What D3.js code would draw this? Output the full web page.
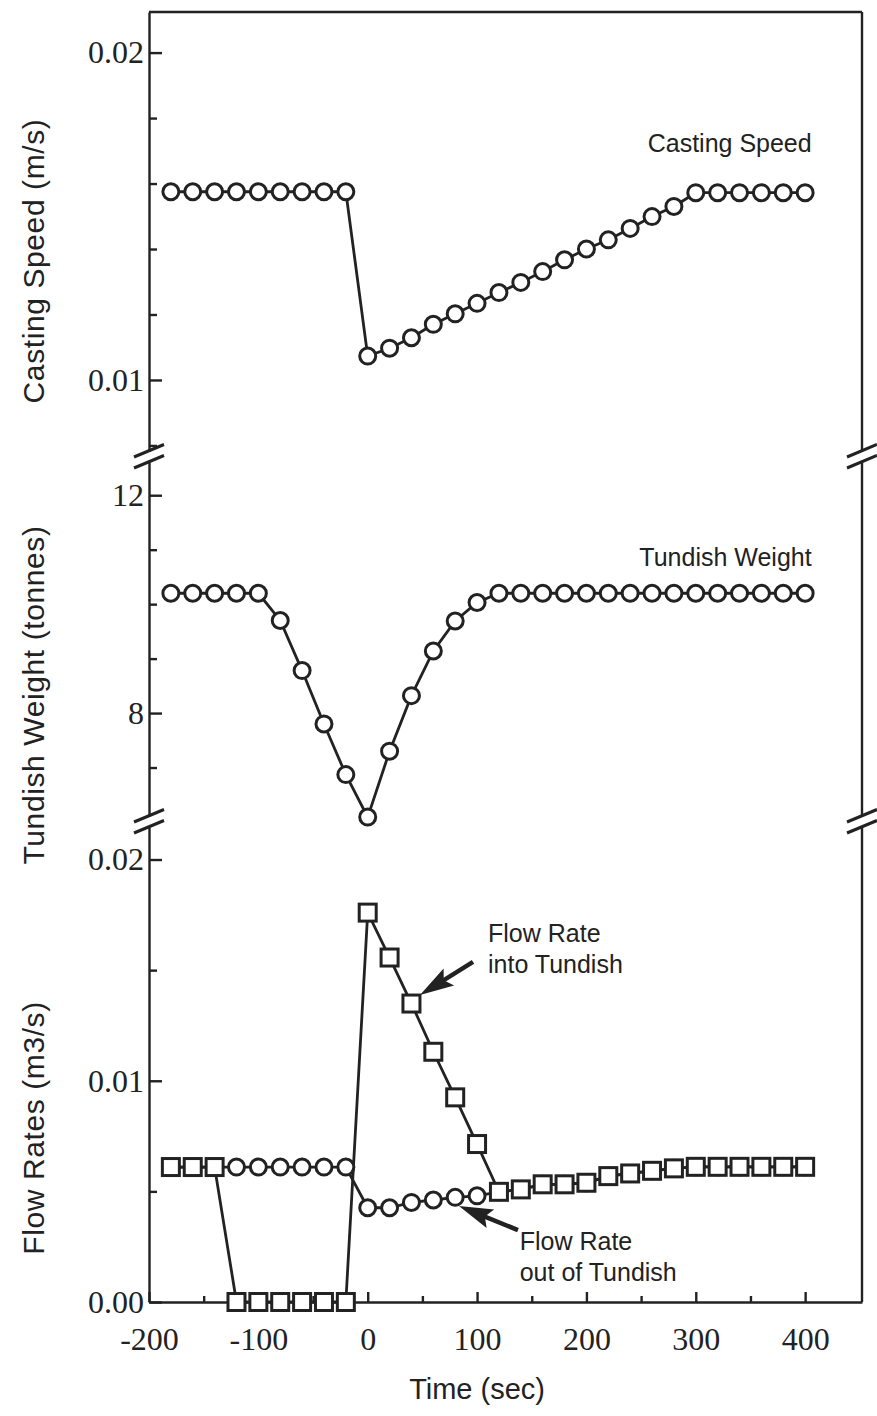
<!DOCTYPE html>
<html>
<head>
<meta charset="utf-8">
<script src="https://cdnjs.cloudflare.com/ajax/libs/d3/7.8.5/d3.min.js"></script>
<style>
  body { margin: 0; background: #fff; }
  .tick text { font-family: "Liberation Serif", "Times New Roman", serif; font-size: 32px; fill: #222; }
</style>
</head>
<body>
<div class="chart"></div>
<script>
// time steps (sec)
const time = [-180, -160, -140, -120, -100, -80, -60, -40, -20, 0, 20, 40, 60, 80, 100,
              120, 140, 160, 180, 200, 220, 240, 260, 280, 300, 320, 340, 360, 380, 400]

// casting speed (m/s)
const castingSpeed = [0.01575, 0.01575, 0.01575, 0.01575, 0.01575, 0.01575, 0.01575, 0.01575, 0.01575,
                      0.01073, 0.01097, 0.01129, 0.01170, 0.01202, 0.01234, 0.01267, 0.01298, 0.01331,
                      0.01367, 0.01400, 0.01428, 0.01463, 0.01499, 0.01530,
                      0.01572, 0.01572, 0.01572, 0.01572, 0.01572, 0.01572]

// tundish weight (tonnes)
const tundishWeight = [10.20, 10.20, 10.20, 10.20, 10.20, 9.70, 8.78, 7.80, 6.87, 6.09,
                       7.30, 8.32, 9.14, 9.69, 10.03, 10.20, 10.20, 10.20, 10.20, 10.20,
                       10.20, 10.20, 10.20, 10.20, 10.20, 10.20, 10.20, 10.20, 10.20, 10.20]

// flow rate into tundish (m3/s) - squares
const flowIn = [0.0061, 0.0061, 0.0061, 0, 0, 0, 0, 0, 0,
                0.0176, 0.01557, 0.01349, 0.01131, 0.00925, 0.00714, 0.00498, 0.00509, 0.00532,
                0.00532, 0.00539, 0.00569, 0.00581, 0.00593, 0.00604,
                0.00611, 0.00611, 0.00611, 0.00611, 0.00611, 0.00611]

// flow rate out of tundish (m3/s) - circles
const flowOut = [0.0061, 0.0061, 0.0061, 0.0061, 0.0061, 0.0061, 0.0061, 0.0061, 0.0061,
                 0.00426, 0.00426, 0.00450, 0.00461, 0.00473, 0.00480, 0.00498, 0.00509, 0.00532,
                 0.00532, 0.00539, 0.00569, 0.00581, 0.00593, 0.00604,
                 0.00611, 0.00611, 0.00611, 0.00611, 0.00611, 0.00611]

const xTicks = [-200, -100, 0, 100, 200, 300, 400]
const xMinor = [-150, -50, 50, 150, 250, 350]

const width = 877
const height = 1416
const ink = '#222'
const left = 149, right = 862

const svg = d3.select('.chart').append('svg')
    .attr('width', width)
    .attr('height', height)

const x = d3.scaleLinear().domain([-200, 452]).range([left, right])

// three stacked panels with broken axes between them
const panels = [
  {title: 'Casting Speed (m/s)', top: 12, bottom: 451, domain: [0.00783, 0.02124],
   major: [0.01, 0.02], minor: [0.008, 0.012, 0.014, 0.016, 0.018], fmt: d3.format('.2f'), titleY: 261},
  {title: 'Tundish Weight (tonnes)', top: 462, bottom: 816, domain: [6.11, 12.61],
   major: [8, 12], minor: [7, 9, 10, 11], fmt: d3.format('d'), titleY: 695},
  {title: 'Flow Rates (m3/s)', top: 827, bottom: 1302, domain: [0, 0.02147],
   major: [0, 0.01, 0.02], minor: [0.005, 0.015], fmt: d3.format('.2f'), titleY: 1128}
]
panels.forEach(p => { p.y = d3.scaleLinear().domain(p.domain).range([p.bottom, p.top]) })

panels.forEach(p => {
  const g = svg.append('g').attr('transform', 'translate(' + left + ',0)')
  g.call(d3.axisLeft(p.y).tickValues(p.major).tickFormat(p.fmt)
        .tickSize(-13).tickSizeOuter(0).tickPadding(5))
  g.append('g').call(d3.axisLeft(p.y).tickValues(p.minor).tickFormat('')
        .tickSize(-8).tickSizeOuter(0))
     .call(a => a.select('.domain').remove())
  g.selectAll('line, path').attr('stroke', ink).attr('stroke-width', 2.4)

  // right frame segment
  svg.append('line')
     .attr('x1', right).attr('x2', right)
     .attr('y1', p.top).attr('y2', p.bottom)
     .attr('stroke', ink).attr('stroke-width', 2.4)

  svg.append('text')
     .attr('transform', 'translate(44,' + p.titleY + ') rotate(-90)')
     .attr('text-anchor', 'middle')
     .style('font-family', '"Liberation Sans", Arial, sans-serif')
     .style('font-size', '30px')
     .style('letter-spacing', '0.6px')
     .attr('fill', ink)
     .text(p.title)
})

// top frame line
svg.append('line')
   .attr('x1', left).attr('x2', right).attr('y1', 12).attr('y2', 12)
   .attr('stroke', ink).attr('stroke-width', 2.4)

// break marks
;[[panels[0], panels[1]], [panels[1], panels[2]]].forEach(([a, b]) => {
  [left, right].forEach(xx => {
    [a.bottom, b.top].forEach(yy => {
      svg.append('line')
         .attr('x1', xx - 15).attr('y1', yy + 6)
         .attr('x2', xx + 15).attr('y2', yy - 6.5)
         .attr('stroke', ink).attr('stroke-width', 3)
    })
  })
})

// x axis
const xg = svg.append('g').attr('transform', 'translate(0,' + panels[2].bottom + ')')
xg.call(d3.axisBottom(x).tickValues(xTicks).tickFormat(d => String(d))
          .tickSize(-10).tickSizeOuter(0).tickPadding(25))
xg.append('g').call(d3.axisBottom(x).tickValues(xMinor).tickFormat('').tickSize(-6).tickSizeOuter(0))
  .call(a => a.select('.domain').remove())
xg.selectAll('line, path').attr('stroke', ink).attr('stroke-width', 2.4)

svg.append('text')
   .attr('x', x(100)).attr('y', 1399)
   .attr('text-anchor', 'middle')
   .style('font-family', '"Liberation Sans", Arial, sans-serif')
   .style('font-size', '29px')
   .attr('fill', ink)
   .text('Time (sec)')

// series
const toPts = vals => time.map((t, i) => ({t: t, v: vals[i]}))

function drawLine(pts, y) {
  svg.append('path')
     .datum(pts)
     .attr('fill', 'none')
     .attr('stroke', ink)
     .attr('stroke-width', 2.8)
     .attr('d', d3.line().x(d => x(d.t)).y(d => y(d.v)))
}
function drawCircles(pts, y) {
  svg.append('g').selectAll('circle')
     .data(pts).enter().append('circle')
     .attr('cx', d => x(d.t)).attr('cy', d => y(d.v)).attr('r', 8)
     .attr('fill', '#fff').attr('stroke', ink).attr('stroke-width', 3)
}
function drawSquares(pts, y) {
  const s = 17
  svg.append('g').selectAll('rect')
     .data(pts).enter().append('rect')
     .attr('x', d => x(d.t) - s / 2).attr('y', d => y(d.v) - s / 2)
     .attr('width', s).attr('height', s)
     .attr('fill', '#fff').attr('stroke', ink).attr('stroke-width', 3)
}

const speedPts = toPts(castingSpeed)
drawLine(speedPts, panels[0].y)
drawCircles(speedPts, panels[0].y)

const weightPts = toPts(tundishWeight)
drawLine(weightPts, panels[1].y)
drawCircles(weightPts, panels[1].y)

const inPts = toPts(flowIn)
const outPts = toPts(flowOut)
drawLine(outPts, panels[2].y)
drawLine(inPts, panels[2].y)
drawCircles(outPts, panels[2].y)
drawSquares(inPts, panels[2].y)

// labels
function label(lines, t, v, y, anchor) {
  const txt = svg.append('text')
     .attr('x', x(t)).attr('y', y(v))
     .attr('text-anchor', anchor)
     .style('font-family', '"Liberation Sans", Arial, sans-serif')
     .style('font-size', '25px')
     .attr('fill', ink)
  lines.forEach((s, i) => {
    txt.append('tspan').attr('x', x(t)).attr('dy', i === 0 ? 0 : 31).text(s)
  })
}
label(['Casting Speed'], 406, 0.01697, panels[0].y, 'end')
label(['Tundish Weight'], 406, 10.70, panels[1].y, 'end')
label(['Flow Rate', 'into Tundish'], 110, 0.01627, panels[2].y, 'start')
label(['Flow Rate', 'out of Tundish'], 139, 0.00235, panels[2].y, 'start')

// arrows
function arrow(t0, v0, t1, v1, y) {
  const x0 = x(t0), y0 = y(v0), x1 = x(t1), y1 = y(v1)
  const len = Math.hypot(x1 - x0, y1 - y0)
  const ux = (x1 - x0) / len, uy = (y1 - y0) / len
  const hl = 34, hw = 10
  const bx = x1 - ux * hl, by = y1 - uy * hl
  svg.append('line')
     .attr('x1', x0).attr('y1', y0).attr('x2', bx + ux * 12).attr('y2', by + uy * 12)
     .attr('stroke', ink).attr('stroke-width', 4.5)
  svg.append('path')
     .attr('d', 'M' + x1 + ',' + y1 +
                'L' + (bx - uy * hw) + ',' + (by + ux * hw) +
                'L' + (bx + ux * 6) + ',' + (by + uy * 6) +
                'L' + (bx + uy * hw) + ',' + (by - ux * hw) + 'Z')
     .attr('fill', ink)
}
arrow(96.3, 0.01537, 47.8, 0.01388, panels[2].y)
arrow(137.4, 0.00325, 83.4, 0.00434, panels[2].y)
</script>
</body>
</html>
